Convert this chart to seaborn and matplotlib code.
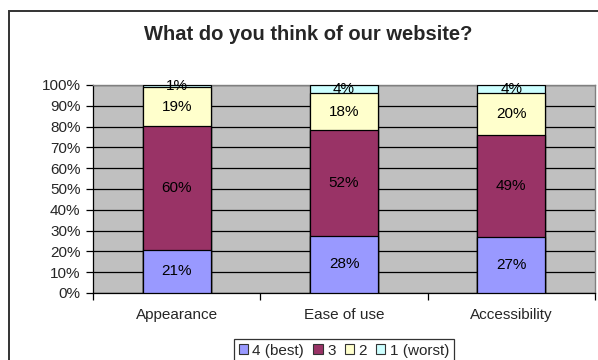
import matplotlib
matplotlib.use("Agg")
import matplotlib.pyplot as plt
from matplotlib.patches import Patch, Rectangle
import numpy as np
import pandas as pd
import seaborn as sns

# Survey results (percent of respondents per rating)
categories = ["Appearance", "Ease of use", "Accessibility"]
series_names = ["4 (best)", "3", "2", "1 (worst)"]
best4 = [21, 28, 27]
rating3 = [60, 52, 49]
rating2 = [19, 18, 20]
worst1 = [1, 4, 4]
colors = ["#9999FF", "#993366", "#FFFFCC", "#CCFFFF"]

sns.set_theme(style="white")
plt.rcParams["font.family"] = ["Liberation Sans", "DejaVu Sans"]

FS = 11

series = [best4, rating3, rating2, worst1]
raw = np.array(series, dtype=float)
totals = raw.sum(axis=0)
shares = raw / totals * 100.0          # 100% stacked
cum = np.cumsum(shares, axis=0)

fig = plt.figure(figsize=(5.98, 3.60), dpi=100)
ax = fig.add_axes([93 / 598, 1 - 293 / 360, (595 - 93) / 598, (293 - 85) / 360])
ax.set_facecolor("#C0C0C0")

# Draw from the top segment down so each lower layer covers the one above
for i in range(len(series) - 1, -1, -1):
    df = pd.DataFrame({"category": categories, "value": cum[i]})
    sns.barplot(data=df, x="category", y="value", color=colors[i],
                width=0.405, edgecolor="black", linewidth=0.9,
                saturation=1, ax=ax, zorder=3)

# Value labels centred on each segment
for i in range(len(series)):
    for j in range(len(categories)):
        y = cum[i, j] - shares[i, j] / 2
        ax.text(j, y, f"{int(raw[i, j])}%", ha="center", va="center",
                fontsize=FS, color="black", zorder=5)

ax.set_xlim(-0.5, 2.5)
ax.set_ylim(0, 100)
ax.set_yticks(np.arange(0, 101, 10))
ax.set_yticklabels([f"{v}%" for v in range(0, 101, 10)], fontsize=FS)
ax.yaxis.grid(True, color="black", linewidth=0.9, zorder=1)
ax.set_axisbelow(True)
ax.set_xlabel("")
ax.set_ylabel("")

ax.set_xticks([0, 1, 2])
ax.set_xticklabels(categories, fontsize=FS)
ax.set_xticks([-0.5, 0.5, 1.5, 2.5], minor=True)
ax.tick_params(axis="x", which="major", length=0, pad=11)
ax.tick_params(axis="x", which="minor", length=5, width=0.9, color="black",
               direction="out", bottom=True)
ax.tick_params(axis="y", length=5, width=0.9, color="black", direction="out",
               left=True, pad=4)

for side in ["top", "right"]:
    ax.spines[side].set_color("#808080")
    ax.spines[side].set_linewidth(1.0)
for side in ["left", "bottom"]:
    ax.spines[side].set_color("black")
    ax.spines[side].set_linewidth(0.9)

fig.text(308 / 598, 1 - 35 / 360, "What do you think of our website?",
         ha="center", va="center", fontsize=14.5, fontweight="bold")

handles = [Patch(facecolor=c, edgecolor="#333333", linewidth=0.8) for c in colors]
leg = fig.legend(handles, series_names, loc="upper center",
                 bbox_to_anchor=(344 / 598, 1 - 339 / 360), ncol=4,
                 fontsize=FS, frameon=True, fancybox=False,
                 handlelength=0.6, handleheight=0.6, handletextpad=0.3,
                 columnspacing=0.6, borderpad=0.3, borderaxespad=0)
leg.get_frame().set_edgecolor("black")
leg.get_frame().set_linewidth(0.9)

# Outer chart border
fig.patches.append(Rectangle((9 / 598, -0.1), 1.2, 1 - 11 / 360 + 0.1,
                             transform=fig.transFigure, fill=False,
                             edgecolor="#333333", linewidth=1.4))

fig.savefig("out.png", dpi=100)
